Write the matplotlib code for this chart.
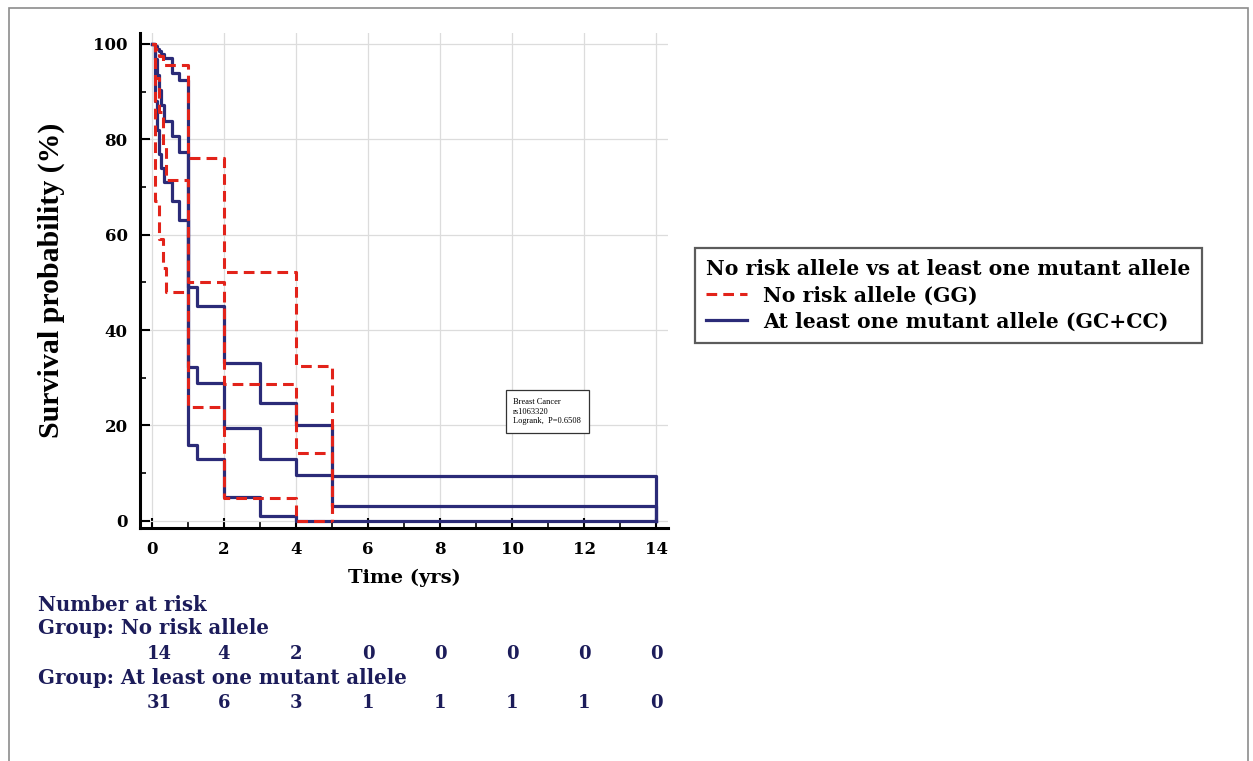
import numpy as np
import matplotlib
matplotlib.use("Agg")
import matplotlib.pyplot as plt
from matplotlib.lines import Line2D
from matplotlib.patches import Rectangle

plt.rcParams['font.family'] = ['DejaVu Serif']
plt.rcParams['font.weight'] = 'bold'

# Kaplan-Meier curves (time in yrs, survival in %)
red_t = [0, 0.1, 0.2, 0.3, 0.4, 1, 2, 4, 5]
red_surv = [100, 92.9, 85.7, 78.6, 71.4, 50.0, 28.6, 14.3, 0]
red_upper = [100, 99, 97.5, 95.6, 95.6, 76.1, 52.2, 32.5, 0]
red_lower = [100, 67, 59, 53, 48, 23.9, 4.8, 0, 0]

blue_t = [0, 0.1, 0.15, 0.2, 0.25, 0.33, 0.55, 0.75, 1.0, 1.25, 2, 3, 4, 5, 14]
blue_surv = [100, 96.8, 93.5, 90.3, 87.1, 83.9, 80.6, 77.4, 32.3, 29.0, 19.4, 12.9, 9.7, 3.2, 0]
blue_upper = [100, 99.5, 99, 98.5, 98, 97, 94, 92.4, 49, 45, 33, 24.7, 20, 9.3, 0]
blue_lower = [100, 88, 82, 77, 74, 71, 67, 63, 16, 13, 5, 1, 0, 0, 0]

risk_times = [0, 2, 4, 6, 8, 10, 12, 14]
risk_no_allele = [14, 4, 2, 0, 0, 0, 0, 0]
risk_mutant = [31, 6, 3, 1, 1, 1, 1, 0]

red = '#e2231a'
navy = '#2b2b78'
navy_txt = '#1c1c5a'

fig = plt.figure(figsize=(12.53, 7.61), dpi=100)
fig.patches.append(Rectangle((9 / 1253, -0.1), 1239 / 1253, 1.1 - 8 / 761,
                             transform=fig.transFigure, fill=False,
                             edgecolor='#8c8c8c', linewidth=1.2))

ax = fig.add_axes([140 / 1253, 1 - 528 / 761, 528 / 1253, 495 / 761])

for ys in (red_surv, red_upper, red_lower):
    ax.step(red_t, ys, where='post', color=red, lw=2.2, ls=(0, (3.5, 2)), zorder=3)
for ys in (blue_surv, blue_upper, blue_lower):
    ax.step(blue_t, ys, where='post', color=navy, lw=2.3, zorder=2)

ax.set_xlim(-0.33, 14.33)
ax.set_ylim(-1.5, 102.3)
ax.set_xticks(range(0, 15, 2))
ax.set_xticks(range(0, 15), minor=True)
ax.set_yticks(range(0, 101, 20))
ax.set_yticks(range(0, 101, 10), minor=True)
ax.grid(True, which='major', color='#dcdcdc', lw=0.9, zorder=0)
ax.tick_params(which='major', direction='in', length=7, width=1.5, labelsize=12, pad=9)
ax.tick_params(which='minor', direction='in', length=4, width=1.2)
for lab in ax.get_xticklabels() + ax.get_yticklabels():
    lab.set_fontweight('bold')
ax.spines['top'].set_visible(False)
ax.spines['right'].set_visible(False)
ax.spines['left'].set_linewidth(2.2)
ax.spines['bottom'].set_linewidth(2.2)

ax.set_xlabel('Time (yrs)', fontsize=14, fontweight='bold', labelpad=8)
ax.set_ylabel('Survival probability (%)', fontsize=21.5, fontweight='bold', labelpad=20,
              family='Liberation Serif')

ax.text(0.707, 0.235, 'Breast Cancer\nrs1063320\nLogrank,  P=0.6508', transform=ax.transAxes,
        fontsize=6, fontweight='normal', family='Liberation Serif', va='center', ha='left',
        linespacing=1.3,
        bbox=dict(boxstyle='square,pad=0.9', facecolor='white', edgecolor='#333333', lw=0.9),
        zorder=5)

handles = [Line2D([], [], color=red, lw=2.2, ls=(0, (3.5, 2))),
           Line2D([], [], color=navy, lw=2.3)]
leg = fig.legend(handles, ['No risk allele (GG)', 'At least one mutant allele (GC+CC)'],
                 title='No risk allele vs at least one mutant allele',
                 loc='upper left', bbox_to_anchor=(695 / 1253, 1 - 248 / 761),
                 prop={'size': 14.7, 'weight': 'bold'}, title_fontproperties={'size': 14.7, 'weight': 'bold'},
                 frameon=True, fancybox=False, edgecolor='#333333', handlelength=2.0,
                 borderpad=0.55, labelspacing=0.3, handletextpad=0.8, alignment='left',
                 borderaxespad=0)
leg.get_frame().set_linewidth(1.6)

# number at risk table
tr = ax.get_xaxis_transform()
fig.text(38 / 1253, 1 - 605 / 761, 'Number at risk', color=navy_txt, fontsize=14.2, fontweight='bold', va='center')
fig.text(38 / 1253, 1 - 628 / 761, 'Group: No risk allele', color=navy_txt, fontsize=14.2, fontweight='bold', va='center')
fig.text(38 / 1253, 1 - 678 / 761, 'Group: At least one mutant allele', color=navy_txt, fontsize=14.2, fontweight='bold', va='center')
y1 = (1 - 654 / 761 - ax.get_position().y0) / ax.get_position().height
y2 = (1 - 703 / 761 - ax.get_position().y0) / ax.get_position().height
for t, a, b in zip(risk_times, risk_no_allele, risk_mutant):
    ax.text(t + (0.2 if a >= 10 else 0), y1, str(a), transform=tr, ha='center', va='center',
            color=navy_txt, fontsize=13, fontweight='bold', clip_on=False)
    ax.text(t + (0.2 if b >= 10 else 0), y2, str(b), transform=tr, ha='center', va='center',
            color=navy_txt, fontsize=13, fontweight='bold', clip_on=False)

fig.savefig('out.png', dpi=100)
